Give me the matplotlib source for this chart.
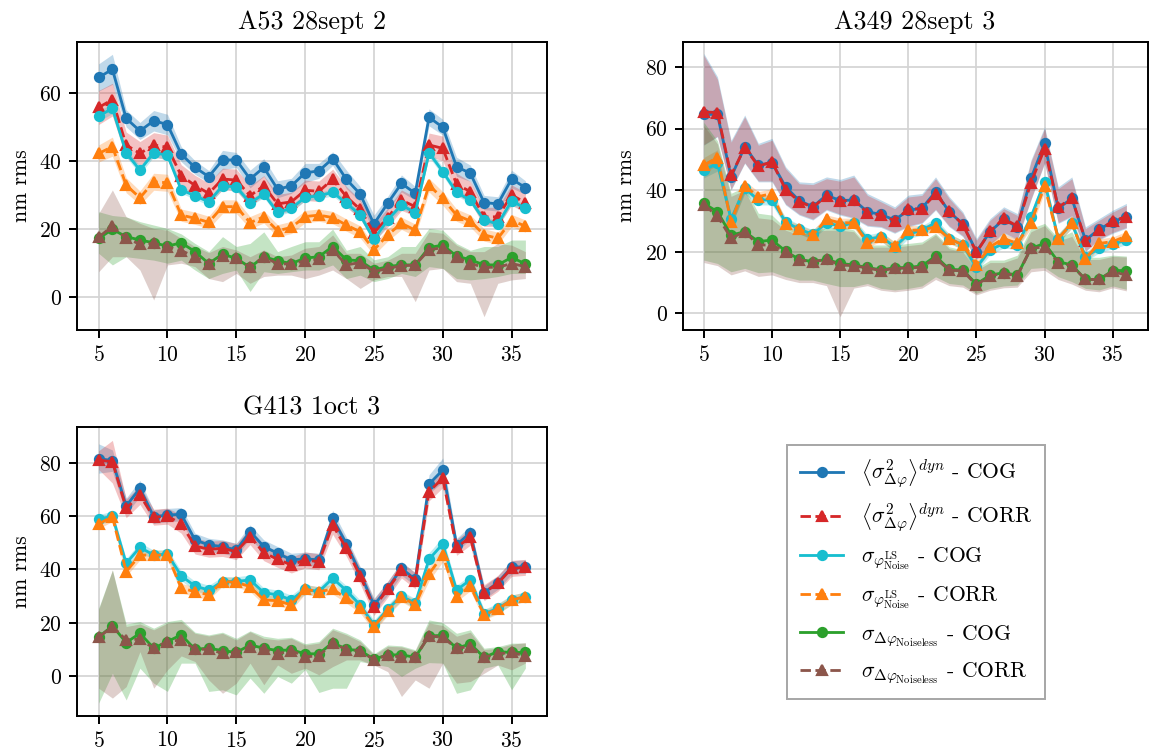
import matplotlib
matplotlib.use("Agg")
import matplotlib.pyplot as plt
import numpy as np

plt.rcParams.update({
    "font.family": "serif",
    "font.serif": ["cmr10", "DejaVu Serif"],
    "mathtext.fontset": "cm",
    "axes.formatter.use_mathtext": True,
    "axes.unicode_minus": False,
    "font.size": 10,
})

x = list(range(5, 37))

# ---------------- A53 28sept 2 ----------------
a53_cog_dyn = [64.5,66.9,52.5,48.8,51.8,50.7,42.0,38.1,35.4,40.3,40.3,34.7,38.1,31.7,32.7,36.5,37.1,40.7,34.6,30.3,21.5,27.6,33.4,30.5,52.8,49.9,38.3,36.4,27.8,27.4,34.7,32.2]
a53_cog_dyn_err = [4.0,4.4,2.5,2.5,3.0,3.0,2.2,2.0,1.8,2.8,2.2,2.6,2.6,2.5,2.2,2.8,2.2,2.0,2.7,2.2,2.6,2.0,2.5,2.0,2.5,2.3,2.8,2.4,2.1,2.1,2.6,2.0]
a53_corr_dyn = [55.7,58.0,44.7,42.2,44.7,44.0,35.7,32.8,30.5,34.7,34.4,29.8,32.7,27.4,28.0,31.4,31.1,34.6,29.5,25.8,18.9,23.4,28.5,26.6,44.7,43.7,33.2,31.0,23.6,23.6,30.0,27.8]
a53_corr_dyn_err = [5.0,4.8,3.8,3.5,3.6,3.6,3.2,3.0,3.0,3.2,3.2,3.0,3.0,2.8,2.8,3.0,3.0,3.0,3.0,2.8,2.5,2.8,3.0,2.8,3.5,3.6,3.2,3.0,2.8,2.8,3.0,3.0]
a53_cog_ls = [53.2,55.4,42.4,37.3,42.4,41.7,31.5,29.8,28.0,32.7,32.4,27.7,30.3,24.9,26.1,29.3,29.8,30.8,27.6,24.2,17.0,22.7,27.1,24.8,42.4,36.9,30.8,28.5,22.7,21.5,28.3,26.1]
a53_cog_ls_err = [1.5,1.5,1.2,1.2,1.2,1.2,1.0,1.0,1.0,1.0,1.0,1.0,1.0,1.0,1.0,1.0,1.0,1.0,1.0,1.0,1.2,1.2,1.0,1.0,1.2,1.2,1.0,1.0,1.0,1.0,1.0,1.0]
a53_corr_ls = [42.2,44.2,32.9,29.2,33.9,33.6,24.1,23.2,22.0,26.6,26.6,21.9,23.6,19.5,20.5,23.7,24.1,23.4,21.2,19.2,13.9,18.3,21.7,19.7,32.9,29.0,24.1,22.4,18.3,17.3,22.5,20.9]
a53_corr_ls_err = [2.5,2.8,2.2,2.0,2.5,2.5,1.8,1.8,1.8,2.0,2.0,1.8,1.8,1.8,1.8,1.8,1.8,1.8,1.8,1.8,1.5,1.8,1.8,1.8,2.0,2.0,1.8,1.8,1.8,1.8,1.8,1.8]
a53_cog_nl = [17.3,19.9,17.8,16.8,16.0,15.0,16.0,13.4,9.9,12.7,11.4,8.8,11.9,10.7,9.9,11.5,11.9,14.9,11.0,10.7,8.0,9.0,9.5,9.5,14.6,15.3,12.1,11.0,9.5,9.5,11.7,9.8]
a53_cog_nl_lo = [12.9,9.5,11.9,11.4,10.9,10.0,10.9,8.0,5.5,7.0,8.0,1.7,7.5,7.0,7.5,8.0,8.0,9.5,5.5,6.5,4.6,5.5,7.0,6.1,9.0,8.5,5.5,5.1,5.5,6.1,7.0,7.0]
a53_cog_nl_hi = [25.1,24.0,23.6,22.2,21.2,20.2,18.6,15.8,13.4,17.8,14.9,15.8,19.2,13.4,14.9,16.3,16.3,20.0,13.8,14.9,11.0,11.9,14.9,14.9,20.2,19.7,15.8,13.8,14.9,14.9,16.8,16.8]
a53_corr_nl = [17.6,20.9,17.3,15.6,15.8,14.8,13.7,11.9,9.9,12.1,11.4,8.8,11.9,9.8,9.8,10.7,11.1,13.9,9.5,10.2,7.5,8.5,9.2,9.5,13.9,14.6,11.7,9.9,8.8,8.8,9.9,9.0]
a53_corr_nl_lo = [7.5,11.9,11.9,8.0,-0.8,9.5,10.0,9.0,5.5,4.6,7.0,4.1,6.1,6.5,6.5,5.5,6.5,8.0,5.5,2.6,5.1,6.1,6.1,-1.3,8.0,8.5,4.6,4.1,-5.7,4.1,5.1,5.5]
a53_corr_nl_hi = [24.6,31.5,23.6,21.7,20.2,19.7,17.3,14.9,13.1,14.9,13.9,11.9,13.9,11.9,12.4,14.4,14.9,18.3,12.9,12.9,10.0,10.9,12.9,12.9,19.2,18.8,15.3,13.4,13.4,15.8,15.3,13.4]

# ---------------- A349 28sept 3 ----------------
a349_cog_dyn = [64.6,64.6,44.3,54.1,48.1,48.9,41.1,36.6,34.6,38.4,36.6,36.8,33.0,32.1,30.3,33.5,34.1,39.5,33.0,29.0,20.0,26.5,30.5,28.1,43.8,55.2,34.1,37.3,23.8,27.3,29.7,31.4]
a349_cog_dyn_lo = [54.6,57.3,40.0,48.7,42.7,42.7,35.2,31.9,30.3,33.5,31.9,30.8,28.3,27.9,26.0,28.1,29.2,33.5,28.1,24.9,17.3,22.2,26.0,23.8,36.8,48.7,29.2,31.4,20.0,23.8,26.0,27.6]
a349_cog_dyn_hi = [84.4,76.8,56.2,64.4,55.2,56.8,47.6,42.7,42.4,44.3,43.5,44.9,38.9,36.8,34.6,38.4,38.9,44.3,37.9,33.0,24.3,30.8,34.6,32.4,49.8,60.6,41.1,44.3,28.1,30.8,33.5,35.7]
a349_corr_dyn = [65.4,65.2,44.8,53.8,47.8,49.2,40.2,36.3,34.4,38.2,36.4,36.9,32.6,31.9,30.1,33.8,34.0,38.8,33.3,28.8,19.8,26.6,30.8,28.3,42.4,53.5,34.4,37.5,23.6,27.0,30.0,31.4]
a349_corr_dyn_lo = [54.8,57.5,40.3,48.9,43.0,43.0,35.5,32.2,30.6,33.8,32.2,31.1,28.6,28.2,26.3,28.4,29.5,33.8,28.4,25.2,17.6,22.5,26.3,24.1,37.1,49.0,29.5,31.7,20.3,24.1,26.3,27.9]
a349_corr_dyn_hi = [83.8,76.0,55.6,63.8,54.6,56.2,47.0,42.1,41.8,43.7,42.9,44.3,38.3,36.2,34.0,37.8,38.3,43.7,37.3,32.4,23.7,30.2,34.0,31.8,49.2,60.0,40.5,43.7,27.5,30.2,32.9,35.1]
a349_cog_ls = [46.5,48.7,30.5,40.6,36.8,36.8,29.7,27.3,25.7,29.4,28.3,29.4,24.0,24.9,21.6,25.7,27.0,29.4,24.3,22.2,14.9,20.6,22.7,22.2,31.2,42.7,24.3,29.2,18.4,21.1,22.5,23.8]
a349_cog_ls_err = [2.5,2.5,1.8,1.8,1.6,1.6,1.5,1.5,1.5,1.5,1.5,1.5,1.5,1.5,1.5,1.5,1.5,1.5,1.5,1.5,1.5,1.5,1.5,1.5,1.8,2.0,1.5,1.5,1.5,1.5,1.5,1.5]
a349_corr_ls = [48.1,50.6,29.7,41.3,37.9,38.9,28.9,27.3,25.4,30.5,29.4,29.4,22.9,24.9,21.8,27.0,27.0,28.1,24.3,22.2,15.7,21.6,24.3,22.7,29.4,41.3,24.3,29.2,17.8,22.7,23.3,25.1]
a349_corr_ls_err = [2.5,2.5,1.8,1.8,1.6,1.6,1.5,1.5,1.5,1.5,1.5,1.5,1.5,1.5,1.5,1.5,1.5,1.5,1.5,1.5,1.5,1.5,1.5,1.5,1.8,2.0,1.5,1.5,1.5,1.5,1.5,1.5]
a349_cog_nl = [35.7,33.0,25.4,26.5,23.3,23.8,20.2,17.5,16.8,17.5,16.2,15.7,14.9,14.1,14.8,14.9,15.4,18.6,14.3,14.1,9.5,12.4,13.2,12.4,21.1,22.7,16.8,15.7,11.0,11.0,13.9,13.9]
a349_cog_nl_lo = [17.3,16.2,13.5,14.6,13.2,13.5,11.9,10.8,10.8,9.7,8.7,8.7,9.7,8.1,7.6,8.1,8.9,11.9,9.7,9.2,6.5,8.1,8.9,9.2,14.6,14.9,11.9,10.3,8.1,7.6,8.9,7.8]
a349_cog_nl_hi = [62.0,56.0,39.0,41.0,32.5,31.9,27.6,26.5,27.1,27.6,28.1,27.1,22.2,22.2,22.2,22.7,23.2,26.0,21.6,20.6,14.6,17.3,17.3,18.9,27.6,29.2,24.4,26.5,18.2,18.2,18.9,18.6]
a349_corr_nl = [35.3,31.6,24.4,26.5,22.2,22.2,20.0,17.3,16.8,17.5,15.7,15.5,14.7,13.9,14.6,14.7,15.0,17.9,14.0,13.8,9.2,12.2,13.0,12.2,21.1,21.6,16.5,15.5,11.0,11.0,13.6,12.4]
a349_corr_nl_lo = [16.5,15.5,12.5,13.8,12.0,12.5,11.0,10.0,10.0,9.0,-1.1,8.2,9.0,7.5,7.0,7.5,8.2,11.0,9.0,8.5,6.0,7.5,8.3,8.5,13.5,14.0,11.0,9.5,7.5,7.0,8.3,7.3]
a349_corr_nl_hi = [61.0,55.0,38.0,40.0,31.0,30.5,27.0,25.5,26.5,27.0,27.0,26.5,21.5,21.5,21.5,22.0,22.5,25.5,21.0,20.0,14.0,16.5,16.5,18.0,26.5,28.5,23.5,25.0,17.5,17.5,18.5,18.3]

# ---------------- G413 1oct 3 ----------------
g413_cog_dyn = [81.6,80.8,63.8,70.4,59.8,60.4,60.7,51.1,49.2,48.6,47.3,54.2,48.6,46.1,43.6,44.0,43.6,59.2,49.6,38.6,26.7,33.0,40.4,36.3,72.0,77.3,49.2,53.8,31.3,35.1,40.8,41.1]
g413_cog_dyn_err = [5.5,4.0,3.0,3.0,2.5,2.5,2.5,2.5,2.5,2.5,2.5,2.5,2.5,2.5,2.5,2.5,2.5,3.0,2.5,2.5,2.5,2.5,2.5,2.5,3.5,4.5,2.5,2.5,2.5,2.5,2.5,2.5]
g413_corr_dyn = [81.0,80.4,62.9,67.9,59.6,60.0,57.1,48.8,47.6,47.9,46.7,52.3,46.3,43.8,41.7,43.6,42.9,56.7,47.9,37.6,25.8,32.6,39.8,35.8,69.2,74.2,48.3,52.1,31.3,34.8,40.4,40.8]
g413_corr_dyn_err = [3.5,8.0,3.5,3.5,3.0,3.0,3.5,3.0,3.0,3.0,3.0,3.0,3.0,3.0,3.0,3.0,3.0,3.5,3.0,3.0,3.0,3.0,3.0,3.0,3.5,3.5,3.0,3.0,3.0,3.0,3.0,3.0]
g413_cog_ls = [58.8,60.0,42.3,48.3,45.4,45.8,37.6,33.8,32.3,35.5,35.5,36.1,31.3,30.5,28.6,32.6,31.7,36.7,32.1,26.7,19.2,25.1,30.1,27.3,43.8,49.6,32.3,36.1,23.3,25.5,28.6,29.8]
g413_cog_ls_err = [1.8,1.8,1.8,1.8,1.8,1.8,1.8,1.8,1.8,1.8,1.8,1.8,1.8,1.8,1.8,1.8,1.8,1.8,1.8,1.8,1.8,1.8,1.8,1.8,2.5,2.5,1.8,1.8,1.8,1.8,1.8,1.8]
g413_corr_ls = [57.1,59.8,39.2,45.4,45.4,45.4,33.0,31.7,30.5,35.5,35.2,33.6,28.6,28.3,26.7,32.6,31.7,32.6,29.2,25.5,18.6,24.6,29.8,26.7,38.3,45.4,29.8,33.8,23.0,25.1,28.6,29.8]
g413_corr_ls_err = [1.8,1.8,1.8,1.8,1.8,1.8,1.8,1.8,1.8,1.8,1.8,1.8,1.8,1.8,1.8,1.8,1.8,1.8,1.8,1.8,1.8,1.8,1.8,1.8,2.5,2.5,1.8,1.8,1.8,1.8,1.8,1.8]
g413_cog_nl = [14.6,18.9,12.6,16.1,10.5,13.0,15.5,10.1,10.5,9.6,8.9,11.7,10.5,9.6,9.9,8.4,8.4,12.6,10.1,9.6,6.4,8.0,8.0,7.1,15.1,15.3,10.5,12.1,7.1,9.2,8.9,8.9]
g413_cog_nl_lo = [-10.1,1.1,-8.9,3.0,-2.6,-5.7,4.9,4.9,-5.7,-5.1,-7.0,-0.7,-6.4,-0.1,-2.6,2.5,-6.1,-4.5,-4.5,5.5,4.5,3.6,-0.1,3.0,5.1,4.9,-6.4,-5.1,3.0,4.2,-5.1,3.0]
g413_cog_nl_hi = [25.5,39.8,19.6,20.5,18.0,20.5,21.3,16.5,15.5,16.5,14.2,17.0,15.0,14.2,14.6,12.2,13.0,18.0,16.1,13.6,8.4,11.7,11.4,9.9,21.1,20.1,16.1,17.4,10.5,11.1,12.4,12.4]
g413_corr_nl = [14.6,18.6,13.6,13.9,10.5,13.0,13.6,10.1,10.1,8.6,8.9,11.1,10.1,8.4,9.6,7.3,7.6,12.6,9.9,9.6,6.1,8.0,7.1,7.1,15.1,14.6,10.5,11.1,7.1,8.4,8.9,7.6]
g413_corr_nl_lo = [-4.5,-8.2,-3.9,9.2,-4.5,2.4,7.6,5.5,-1.4,-6.4,-2.6,4.9,-3.2,4.2,1.1,3.0,0.5,3.6,6.1,6.1,4.2,1.7,-7.6,-1.4,-4.5,4.9,-2.6,-2.0,1.1,4.2,2.4,4.9]
g413_corr_nl_hi = [25.0,39.8,18.6,19.6,17.4,19.9,20.5,16.1,15.1,16.1,13.6,16.7,14.2,13.6,14.2,11.7,12.4,17.4,15.5,13.0,8.0,11.2,11.0,9.5,20.0,19.0,15.0,16.5,10.0,10.5,12.0,12.6]

titles = ["A53 28sept 2", "A349 28sept 3", "G413 1oct 3"]
labels = [
    r"$\left\langle \sigma^2_{\Delta\varphi} \right\rangle^{dyn}$ - COG",
    r"$\left\langle \sigma^2_{\Delta\varphi} \right\rangle^{dyn}$ - CORR",
    r"$\sigma_{\varphi^{\mathrm{LS}}_{\mathrm{Noise}}}$ - COG",
    r"$\sigma_{\varphi^{\mathrm{LS}}_{\mathrm{Noise}}}$ - CORR",
    r"$\sigma_{\Delta\varphi_{\mathrm{Noiseless}}}$ - COG",
    r"$\sigma_{\Delta\varphi_{\mathrm{Noiseless}}}$ - CORR",
]
colors = ["#1f77b4", "#d62728", "#17becf", "#ff7f0e", "#2ca02c", "#8c564b"]
styles = [("-", "o"), ("--", "^"), ("-", "o"), ("--", "^"), ("-", "o"), ("--", "^")]


def band(v, err=None, lo=None, hi=None):
    v = np.asarray(v)
    if err is not None:
        e = np.asarray(err)
        return v - e, v + e
    return np.asarray(lo), np.asarray(hi)


panels = [
    [
        (a53_cog_dyn, band(a53_cog_dyn, a53_cog_dyn_err)),
        (a53_corr_dyn, band(a53_corr_dyn, a53_corr_dyn_err)),
        (a53_cog_ls, band(a53_cog_ls, a53_cog_ls_err)),
        (a53_corr_ls, band(a53_corr_ls, a53_corr_ls_err)),
        (a53_cog_nl, band(a53_cog_nl, lo=a53_cog_nl_lo, hi=a53_cog_nl_hi)),
        (a53_corr_nl, band(a53_corr_nl, lo=a53_corr_nl_lo, hi=a53_corr_nl_hi)),
    ],
    [
        (a349_cog_dyn, band(a349_cog_dyn, lo=a349_cog_dyn_lo, hi=a349_cog_dyn_hi)),
        (a349_corr_dyn, band(a349_corr_dyn, lo=a349_corr_dyn_lo, hi=a349_corr_dyn_hi)),
        (a349_cog_ls, band(a349_cog_ls, a349_cog_ls_err)),
        (a349_corr_ls, band(a349_corr_ls, a349_corr_ls_err)),
        (a349_cog_nl, band(a349_cog_nl, lo=a349_cog_nl_lo, hi=a349_cog_nl_hi)),
        (a349_corr_nl, band(a349_corr_nl, lo=a349_corr_nl_lo, hi=a349_corr_nl_hi)),
    ],
    [
        (g413_cog_dyn, band(g413_cog_dyn, g413_cog_dyn_err)),
        (g413_corr_dyn, band(g413_corr_dyn, g413_corr_dyn_err)),
        (g413_cog_ls, band(g413_cog_ls, g413_cog_ls_err)),
        (g413_corr_ls, band(g413_corr_ls, g413_corr_ls_err)),
        (g413_cog_nl, band(g413_cog_nl, lo=g413_cog_nl_lo, hi=g413_cog_nl_hi)),
        (g413_corr_nl, band(g413_corr_nl, lo=g413_corr_nl_lo, hi=g413_corr_nl_hi)),
    ],
]

W, H = 1150, 756
DPI = 156
fig = plt.figure(figsize=(W / DPI, H / DPI), dpi=DPI)

rects = [
    (77.3, 41.7, 546.7, 330.0),
    (682.7, 41.7, 1147.5, 330.0),
    (77.3, 427.3, 546.7, 715.7),
]
ylims = [(-9.6, 75.0), (-5.4, 88.2), (-14.8, 93.3)]
yticks = [[0, 20, 40, 60], [0, 20, 40, 60, 80], [0, 20, 40, 60, 80]]

handles = None
for i, (l, t, r, b) in enumerate(rects):
    ax = fig.add_axes([l / W, 1 - b / H, (r - l) / W, (b - t) / H])
    hs = []
    for (vals, (lo, hi)), c, (ls, mk) in zip(panels[i], colors, styles):
        h, = ax.plot(x, vals, color=c, linestyle=ls, marker=mk, lw=1.3,
                     ms=4.2 if mk == "o" else 4.8, zorder=3)
        ax.fill_between(x, lo, hi, color=c, alpha=0.28, lw=0, zorder=2)
        hs.append(h)
    if handles is None:
        handles = hs
    ax.set_xlim(3.45, 37.55)
    ax.set_ylim(*ylims[i])
    ax.set_xticks([5, 10, 15, 20, 25, 30, 35])
    ax.set_yticks(yticks[i])
    ax.grid(True, color="#d4d4d4", lw=0.8, zorder=0)
    ax.set_axisbelow(True)
    ax.set_title(titles[i], fontsize=12, pad=6)
    ax.set_ylabel("nm rms", fontsize=10)
    ax.tick_params(labelsize=10, width=0.9, length=3.5)
    for s in ax.spines.values():
        s.set_linewidth(0.9)

leg = fig.legend(handles, labels, loc="center",
                 bbox_to_anchor=(916 / W, 1 - 572 / H),
                 fontsize=10, fancybox=False, edgecolor="0.65",
                 framealpha=1, labelspacing=0.55, borderpad=0.6)
leg.get_frame().set_linewidth(0.9)

fig.savefig("out.png", dpi=DPI)
